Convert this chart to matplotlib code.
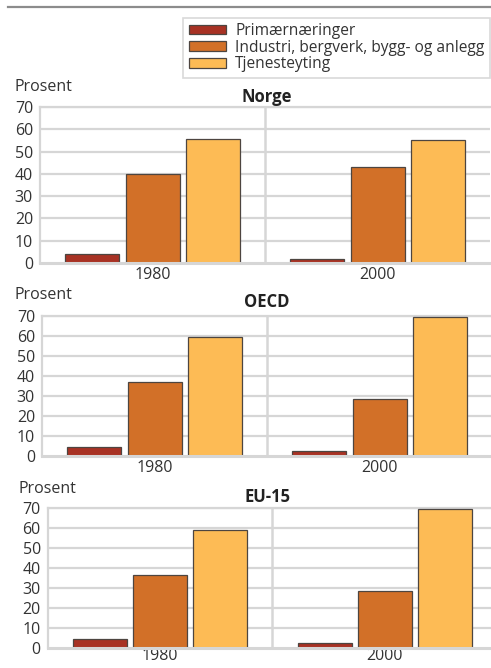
import numpy as np
import matplotlib
matplotlib.use("Agg")
import matplotlib.pyplot as plt
from matplotlib.lines import Line2D

plt.rcParams['font.family'] = ['Open Sans', 'DejaVu Sans']
plt.rcParams['font.size'] = 11

years = ["1980", "2000"]
sectors = ["Primærnæringer", "Industri, bergverk, bygg- og anlegg", "Tjenesteyting"]
colors = ["#a83224", "#d27028", "#fdbb55"]

regions = ["Norge", "OECD", "EU-15"]
norge = [[4.0, 40.0, 55.5], [1.7, 42.9, 55.2]]
oecd = [[4.5, 36.7, 59.2], [2.3, 28.3, 69.5]]
eu15 = [[4.6, 36.7, 59.0], [2.5, 28.4, 69.7]]
values = [norge, oecd, eu15]

W, H = 491, 668
fig = plt.figure(figsize=(W / 100, H / 100), dpi=100)

# panel boxes in pixels: left, right, top, bottom
boxes = [(40, 490, 107, 263), (42, 492, 315.7, 455.7), (47.7, 497, 508, 648)]
prosent_y = [87, 295, 489]
prosent_x = [14, 14, 19]
title_y = [97, 302, 497]
year_pad = [3, 3, 0]

grid_col = "#d6d6d6"
text_col = "#333333"
bar_w = 0.24
step = 0.267

for k, (name, data) in enumerate(zip(regions, values)):
    l, r, t, b = boxes[k]
    ax = fig.add_axes([l / W, 1 - b / H, (r - l) / W, (b - t) / H])
    data = np.array(data)
    x = np.arange(len(years))
    for j in range(len(sectors)):
        ax.bar(x + (j - 1) * step, data[:, j], width=bar_w, color=colors[j],
               edgecolor="#4d4540", linewidth=0.9, zorder=3, label=sectors[j])
    ax.set_xlim(-0.5, 1.5)
    ax.set_ylim(0, 70)
    ax.set_yticks(range(0, 71, 10))
    ax.set_xticks(x)
    ax.set_xticklabels(years)
    ax.tick_params(length=0, pad=5, labelsize=11.5, colors=text_col)
    ax.tick_params(axis='x', pad=year_pad[k])
    for yv in range(10, 71, 10):
        ax.axhline(yv, color=grid_col, lw=1.6, zorder=1)
    ax.axvline(0.5, color=grid_col, lw=1.8, zorder=1)
    ax.spines["right"].set_visible(False)
    for side in ["left", "top", "bottom"]:
        ax.spines[side].set_color(grid_col)
        ax.spines[side].set_linewidth(1.6)
    ax.spines["bottom"].set_linewidth(2.2)
    ax.spines["bottom"].set_zorder(4)
    fig.text(prosent_x[k] / W, 1 - prosent_y[k] / H, "Prosent", ha="left",
             va="center", fontsize=11.5, color=text_col)
    fig.text(267 / W, 1 - title_y[k] / H, name, ha="center", va="center",
             fontsize=12, fontweight="bold", color="#222222")
    if k == 0:
        handles, labels = ax.get_legend_handles_labels()

leg = fig.legend(handles, labels, loc="upper right",
                 bbox_to_anchor=(490 / W, 1 - 17.5 / H), frameon=True,
                 fontsize=11.2, handlelength=2.4, handleheight=0.6,
                 handletextpad=0.6, labelspacing=0.05, borderpad=0.35,
                 fancybox=False, borderaxespad=0)
leg.get_frame().set_edgecolor("#d0d0d0")
leg.get_frame().set_linewidth(1.2)
for txt in leg.get_texts():
    txt.set_color(text_col)

# rule across the top
fig.add_artist(Line2D([8 / W, 1.0], [1 - 7 / H, 1 - 7 / H], color="#8c8c8c", lw=1.6))

fig.savefig("out.png", dpi=100)
